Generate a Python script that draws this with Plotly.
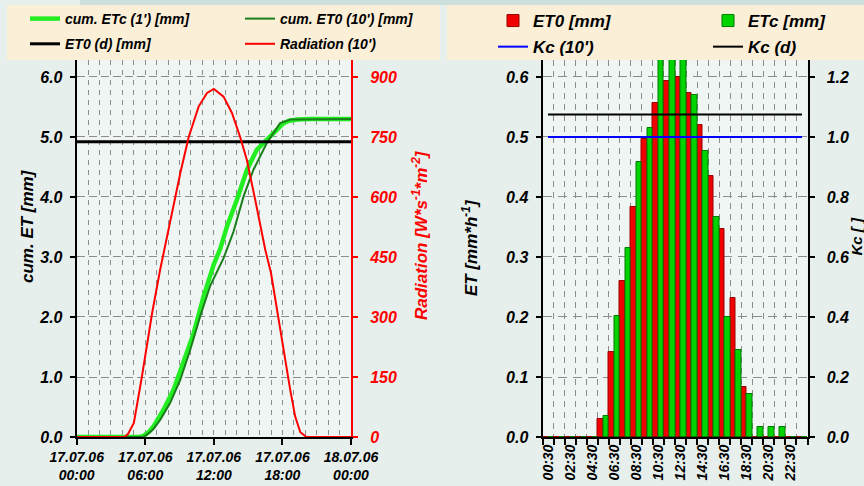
import plotly.graph_objects as go

# ---------------- data: left chart (17.07.06) ----------------
DAY = "2006-07-17"
rad_time = ["00:00", "04:12", "04:30", "05:00", "05:42", "06:36", "07:18", "08:18", "09:04",
            "09:48", "10:40", "11:24", "12:00", "12:51", "13:35", "14:18", "14:53", "15:37",
            "16:20", "16:30", "17:00", "17:30", "18:06", "18:41", "19:07", "19:34", "20:06", "24:00"]
rad_val = [0, 0, 8, 35, 150, 310, 418, 560, 660,
           750, 826, 860, 870, 851, 810, 750, 693, 593,
           493, 468, 410, 320, 218, 118, 51, 12, 0, 0]

etc_time = ["00:00", "05:30", "05:51", "06:18", "06:44", "07:36", "08:29", "09:21", "10:14",
            "11:06", "12:00", "12:34", "13:09", "14:01", "14:54", "15:46", "16:38", "17:31",
            "18:06", "18:36", "19:18", "20:24", "24:00"]
etc_val = [0, 0, 0.02, 0.08, 0.18, 0.455, 0.79, 1.23, 1.73,
           2.34, 2.88, 3.14, 3.51, 3.955, 4.455, 4.79, 4.955, 5.12,
           5.23, 5.27, 5.29, 5.30, 5.30]

et0_time = ["00:00", "05:48", "06:09", "06:42", "07:19", "08:11", "09:04", "09:56", "10:48",
            "11:41", "12:51", "13:43", "14:36", "15:28", "16:38", "17:48", "18:42", "24:00"]
et0_val = [0, 0, 0.04, 0.13, 0.29, 0.57, 0.955, 1.455, 2.01,
           2.52, 2.98, 3.42, 4.01, 4.455, 4.90, 5.23, 5.29, 5.30]

et0d_time = ["00:00", "24:00"]
et0d_val = [4.92, 4.92]

left_ticks = ["00:00", "06:00", "12:00", "18:00", "24:00"]

# ---------------- data: right chart (hourly) ----------------
hours = ["00:30", "01:30", "02:30", "03:30", "04:30", "05:30", "06:30", "07:30",
         "08:30", "09:30", "10:30", "11:30", "12:30", "13:30", "14:30", "15:30",
         "16:30", "17:30", "18:30", "19:30", "20:30", "21:30", "22:30", "23:30"]
hour_labels = ["00:30", "", "02:30", "", "04:30", "", "06:30", "", "08:30", "", "10:30", "",
               "12:30", "", "14:30", "", "16:30", "", "18:30", "", "20:30", "", "22:30", ""]
et0_h = [0, 0, 0, 0, 0, 0.030, 0.142, 0.260, 0.384, 0.496, 0.557, 0.594,
         0.600, 0.574, 0.520, 0.435, 0.347, 0.232, 0.083, 0, 0, 0, 0, 0]
etc_h = [0, 0, 0, 0, 0, 0.035, 0.202, 0.315, 0.458, 0.515, 0.680, 0.700,
         0.670, 0.570, 0.477, 0.367, 0.200, 0.145, 0.072, 0.017, 0.017, 0.017, 0, 0]
kc_10 = [1.0, 1.0, 1.0, 1.0, 1.0, 1.0, 1.0, 1.0, 1.0, 1.0, 1.0, 1.0,
         1.0, 1.0, 1.0, 1.0, 1.0, 1.0, 1.0, 1.0, 1.0, 1.0, 1.0, 1.0]
kc_d = [1.075, 1.075, 1.075, 1.075, 1.075, 1.075, 1.075, 1.075, 1.075, 1.075, 1.075, 1.075,
        1.075, 1.075, 1.075, 1.075, 1.075, 1.075, 1.075, 1.075, 1.075, 1.075, 1.075, 1.075]


def dt(t):
    if t == "24:00":
        return "2006-07-18 00:00"
    return DAY + " " + t


W, H = 864, 486
FONT = "Arial, Liberation Sans, sans-serif"


def px(x):
    return x / W


def py(y):
    return 1 - y / H


def bi(size, color="black"):
    return dict(family=FONT, size=size, color=color, weight="bold", style="italic")


fig = go.Figure()

# left chart traces
fig.add_trace(go.Scatter(x=[dt(t) for t in etc_time], y=etc_val, name="cum. ETc (1') [mm]",
                         mode="lines", line=dict(color="#22ee22", width=4.5),
                         xaxis="x", yaxis="y", legend="legend", legendgroup="a"))
fig.add_trace(go.Scatter(x=[dt(t) for t in et0_time], y=et0_val, name="cum. ET0 (10') [mm]",
                         mode="lines", line=dict(color="#1a7f1a", width=2),
                         xaxis="x", yaxis="y", legend="legend2", legendgroup="b"))
fig.add_trace(go.Scatter(x=[dt(t) for t in et0d_time], y=et0d_val, name="ET0 (d) [mm]",
                         mode="lines", line=dict(color="black", width=3),
                         xaxis="x", yaxis="y", legend="legend", legendgroup="c"))
fig.add_trace(go.Scatter(x=[dt(t) for t in rad_time], y=rad_val, name="Radiation (10')",
                         mode="lines", line=dict(color="#ff0000", width=2),
                         xaxis="x", yaxis="y2", legend="legend2", legendgroup="d"))

# right chart traces
fig.add_trace(go.Bar(x=hours, y=et0_h, name="ET0 [mm]",
                     marker=dict(color="#f00000", line=dict(color="#9a0000", width=1)),
                     xaxis="x2", yaxis="y3", legend="legend3", legendgroup="e"))
fig.add_trace(go.Bar(x=hours, y=etc_h, name="ETc [mm]",
                     marker=dict(color="#00d400", line=dict(color="#007a00", width=1)),
                     xaxis="x2", yaxis="y3", legend="legend4", legendgroup="f"))
fig.add_trace(go.Scatter(x=hours, y=kc_10, name="Kc (10')", mode="lines",
                         line=dict(color="#0000ff", width=2),
                         xaxis="x2", yaxis="y4", legend="legend3", legendgroup="g"))
fig.add_trace(go.Scatter(x=hours, y=kc_d, name="Kc (d)", mode="lines",
                         line=dict(color="black", width=2),
                         xaxis="x2", yaxis="y4", legend="legend4", legendgroup="h"))

YDOM = [py(437), py(60)]
GRID = "#8c8c8c"

fig.update_layout(
    width=W, height=H,
    margin=dict(l=0, r=0, t=0, b=0, autoexpand=False),
    paper_bgcolor="#e6efeb",
    plot_bgcolor="#eef5f2",
    barmode="group", bargap=0, bargroupgap=0,
    showlegend=True,
    xaxis=dict(domain=[px(76.7), px(351)], type="date", anchor="y", automargin=False,
               range=[dt("00:00"), dt("24:00")],
               tickmode="array", tickvals=[dt(t) for t in left_ticks],
               tickformat="%d.%m.%y<br>%H:%M", tickfont=bi(14),
               ticks="outside", ticklen=6, tickwidth=2, tickcolor="black",
               showline=True, linecolor="black", linewidth=2,
               showgrid=True, gridcolor=GRID, griddash="5px,5px", gridwidth=1,
               minor=dict(dtick=3600000, tick0=dt("00:00"), showgrid=True,
                          gridcolor=GRID, griddash="5px,5px", gridwidth=1),
               fixedrange=True),
    yaxis=dict(domain=YDOM, anchor="x", range=[0, 6.283], dtick=1, tick0=0, automargin=False,
               tickformat=".1f", tickfont=bi(16), ticks="outside", ticklen=5,
               tickwidth=2, tickcolor="black", ticklabelstandoff=4,
               showline=True, linecolor="black", linewidth=2, zeroline=False,
               showgrid=True, gridcolor=GRID, griddash="8px,4px"),
    yaxis2=dict(overlaying="y", side="right", anchor="x", range=[0, 942.5], dtick=150, tick0=0,
                automargin=False,
                tickfont=bi(16, "#ff0000"), ticks="outside", ticklen=5, tickwidth=2,
                tickcolor="#ff0000", ticklabelstandoff=9,
                showline=True, linecolor="#ff0000", linewidth=2, zeroline=False,
                showgrid=False),
    xaxis2=dict(domain=[px(542.5), px(807.5)], type="category", anchor="y3", automargin=False,
                range=[-0.5, 23.5], tickmode="array", tickvals=hours, ticktext=hour_labels,
                tickson="boundaries", tickangle=-90, tickfont=bi(14),
                ticks="outside", ticklen=6, tickwidth=2, tickcolor="black",
                showline=True, linecolor="black", linewidth=2,
                showgrid=True, gridcolor=GRID, griddash="6px,5px"),
    yaxis3=dict(domain=YDOM, anchor="x2", range=[0, 0.6283], dtick=0.1, tick0=0,
                automargin=False,
                tickformat=".1f", tickfont=bi(16), ticks="outside", ticklen=5,
                tickwidth=2, tickcolor="black", ticklabelstandoff=4,
                showline=True, linecolor="black", linewidth=2, zeroline=False,
                showgrid=True, gridcolor=GRID, griddash="9px,6px"),
    yaxis4=dict(overlaying="y3", side="right", anchor="x2", range=[0, 1.2567], dtick=0.2, tick0=0,
                automargin=False,
                tickformat=".1f", tickfont=bi(16), ticks="outside", ticklen=5,
                tickwidth=2, tickcolor="black", ticklabelstandoff=9,
                showline=True, linecolor="black", linewidth=2, zeroline=False,
                showgrid=False),
)

leg_common = dict(orientation="v", xanchor="left", yanchor="top", bgcolor="rgba(0,0,0,0)",
                  borderwidth=0, traceorder="grouped", itemclick=False, itemdoubleclick=False)
fig.update_layout(
    legend=dict(x=px(25), y=py(3), font=bi(14), tracegroupgap=4, **leg_common),
    legend2=dict(x=px(240), y=py(3), font=bi(14), tracegroupgap=4, **leg_common),
    legend3=dict(x=px(493), y=py(3), font=bi(17), tracegroupgap=1, **leg_common),
    legend4=dict(x=px(708), y=py(3), font=bi(17), tracegroupgap=1, **leg_common),
)

# background panels (legend boxes, top strip)
fig.add_shape(type="rect", xref="paper", yref="paper", x0=px(80), x1=1, y0=py(5), y1=1,
              fillcolor="#cde1dc", line=dict(width=0), layer="below")
fig.add_shape(type="rect", xref="paper", yref="paper", x0=px(7), x1=px(440), y0=py(60), y1=py(5),
              fillcolor="#fbefd7", line=dict(width=0), layer="below")
fig.add_shape(type="rect", xref="paper", yref="paper", x0=px(447), x1=1, y0=py(60), y1=py(5),
              fillcolor="#fbefd7", line=dict(width=0), layer="below")

# axis titles
fig.add_annotation(text="cum. ET [mm]", x=px(27), y=py(226), xref="paper", yref="paper",
                   xanchor="center", yanchor="middle",
                   textangle=-90, showarrow=False, font=bi(17))
fig.add_annotation(text="Radiation [W*s<sup>-1</sup>*m<sup>-2</sup>]", x=px(420), y=py(235),
                   xref="paper", yref="paper", xanchor="center", yanchor="middle",
                   textangle=-90, showarrow=False, font=bi(17, "#ff0000"))
fig.add_annotation(text="ET [mm*h<sup>-1</sup>]", x=px(470), y=py(248), xref="paper",
                   yref="paper", xanchor="center", yanchor="middle",
                   textangle=-90, showarrow=False, font=bi(17))
fig.add_annotation(text="Kc [ ]", x=px(855.5), y=py(236), xref="paper", yref="paper",
                   xanchor="center", yanchor="middle",
                   textangle=-90, showarrow=False, font=bi(15))

fig.write_html("out.html")
